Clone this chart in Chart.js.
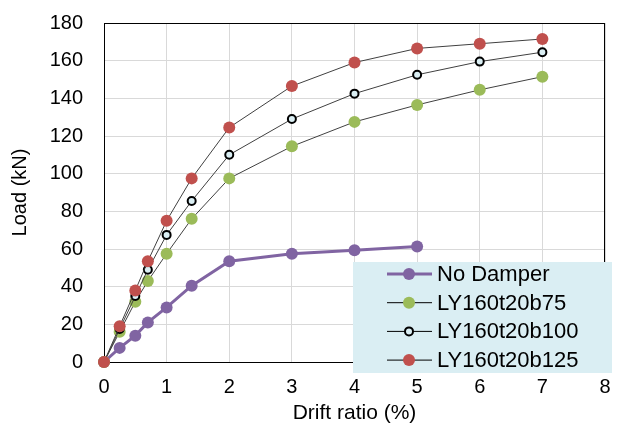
<!DOCTYPE html>
<html>
<head>
<meta charset="utf-8">
<script src="https://cdn.jsdelivr.net/npm/chart.js@4.4.1/dist/chart.umd.min.js"></script>
<style>
  html, body { margin: 0; padding: 0; background: #fff; }
  canvas { display: block; }
</style>
</head>
<body>
<canvas id="chart" width="621" height="432"></canvas>
<script>
// ----- DATA -----
const seriesNames = ['No Damper', 'LY160t20b75', 'LY160t20b100', 'LY160t20b125'];
const driftAll = [0, 0.25, 0.5, 0.7, 1, 1.4, 2, 3, 4, 5, 6, 7];
const driftNoDamper = [0, 0.25, 0.5, 0.7, 1, 1.4, 2, 3, 4, 5];
const loadNoDamper = [0, 7.5, 14, 21, 29, 40.5, 53.5, 57.5, 59.3, 61.3];
const loadB75 = [0, 16, 32, 43, 57.5, 76, 97.5, 114.5, 127.5, 136.5, 144.5, 151.5];
const loadB100 = [0, 17.5, 35, 49, 67.5, 85.5, 110, 129, 142.5, 152.5, 159.5, 164.5];
const loadB125 = [0, 19, 38, 53.5, 75, 97.5, 124.5, 146.5, 159, 166.5, 169, 171.5];

const FONT = "'Liberation Sans', Arial, sans-serif";

function toPoints(xs, ys) {
  return ys.map((y, i) => ({ x: xs[i], y: y }));
}

// plot area frame, drawn under the markers
const framePlugin = {
  id: 'frame',
  beforeDatasetsDraw(chart) {
    const { ctx, chartArea: a } = chart;
    ctx.save();
    ctx.strokeStyle = '#000';
    ctx.lineWidth = 1;
    ctx.strokeRect(Math.round(a.left) + 0.5, Math.round(a.top) + 0.5,
      Math.round(a.right - a.left) - 1, Math.round(a.bottom - a.top));
    ctx.restore();
  }
};

// boxed legend sitting over the lower right corner
const boxLegend = {
  id: 'boxLegend',
  afterDraw(chart) {
    const ctx = chart.ctx;
    const boxX = 353, boxY = 262, boxW = 259, boxH = 111;
    ctx.save();
    ctx.fillStyle = '#daeef3';
    ctx.fillRect(boxX, boxY, boxW, boxH);
    ctx.font = '22px ' + FONT;
    ctx.textBaseline = 'middle';
    ctx.textAlign = 'left';
    chart.data.datasets.forEach((ds, i) => {
      const y = 274 + i * 28.7;
      ctx.strokeStyle = ds.borderWidth > 1 ? ds.borderColor : '#000';
      ctx.lineWidth = ds.borderWidth;
      ctx.beginPath();
      ctx.moveTo(387, y);
      ctx.lineTo(432, y);
      ctx.stroke();
      ctx.beginPath();
      ctx.arc(409, y, ds.pointRadius, 0, Math.PI * 2);
      ctx.fillStyle = ds.pointBackgroundColor;
      ctx.fill();
      if (ds.pointBorderWidth > 0) {
        ctx.lineWidth = ds.pointBorderWidth;
        ctx.strokeStyle = ds.pointBorderColor;
        ctx.stroke();
      }
      ctx.fillStyle = '#000';
      ctx.fillText(ds.label, 437, y + 1);
    });
    ctx.restore();
  }
};

const ctx = document.getElementById('chart').getContext('2d');
new Chart(ctx, {
  type: 'scatter',
  data: {
    datasets: [
      {
        label: seriesNames[0],
        data: toPoints(driftNoDamper, loadNoDamper),
        showLine: true,
        borderColor: '#8064a2',
        borderWidth: 3,
        pointRadius: 6,
        pointBackgroundColor: '#8064a2',
        pointBorderColor: '#8064a2',
        pointBorderWidth: 0,
        order: 3
      },
      {
        label: seriesNames[1],
        data: toPoints(driftAll, loadB75),
        showLine: true,
        borderColor: '#404040',
        borderWidth: 1,
        pointRadius: 6,
        pointBackgroundColor: '#9bbb59',
        pointBorderColor: '#9bbb59',
        pointBorderWidth: 0,
        order: 2
      },
      {
        label: seriesNames[2],
        data: toPoints(driftAll, loadB100),
        showLine: true,
        borderColor: '#404040',
        borderWidth: 1,
        pointRadius: 4,
        pointBackgroundColor: '#daeef3',
        pointBorderColor: '#000',
        pointBorderWidth: 2,
        order: 1
      },
      {
        label: seriesNames[3],
        data: toPoints(driftAll, loadB125),
        showLine: true,
        borderColor: '#404040',
        borderWidth: 1,
        pointRadius: 6,
        pointBackgroundColor: '#c0504d',
        pointBorderColor: '#c0504d',
        pointBorderWidth: 0,
        order: 0
      }
    ]
  },
  options: {
    responsive: false,
    animation: false,
    clip: false,
    layout: { padding: { left: 0, top: 23, right: 16, bottom: 0 } },
    plugins: {
      legend: { display: false },
      tooltip: { enabled: false }
    },
    elements: { line: { tension: 0 } },
    scales: {
      x: {
        type: 'linear',
        min: 0,
        max: 8,
        afterFit: (axis) => {
          axis.height = 70;
          axis.paddingLeft = 0;
          axis.paddingRight = 0;
        },
        ticks: { stepSize: 1, padding: 13, color: '#000', font: { family: FONT, size: 20 } },
        grid: { color: '#d9d9d9', drawTicks: false },
        border: { display: false },
        title: {
          display: true,
          text: 'Drift ratio (%)',
          color: '#000',
          font: { family: FONT, size: 21 },
          padding: { top: 0, bottom: 6 }
        }
      },
      y: {
        type: 'linear',
        min: 0,
        max: 180,
        afterFit: (axis) => {
          axis.width = 104;
          axis.paddingTop = 0;
          axis.paddingBottom = 0;
        },
        ticks: { stepSize: 20, padding: 21, color: '#000', font: { family: FONT, size: 20 } },
        grid: { color: '#d9d9d9', drawTicks: false },
        border: { display: false },
        title: {
          display: true,
          text: 'Load (kN)',
          color: '#000',
          font: { family: FONT, size: 20 },
          padding: { top: 8, bottom: 0 }
        }
      }
    }
  },
  plugins: [framePlugin, boxLegend]
});
</script>
</body>
</html>
